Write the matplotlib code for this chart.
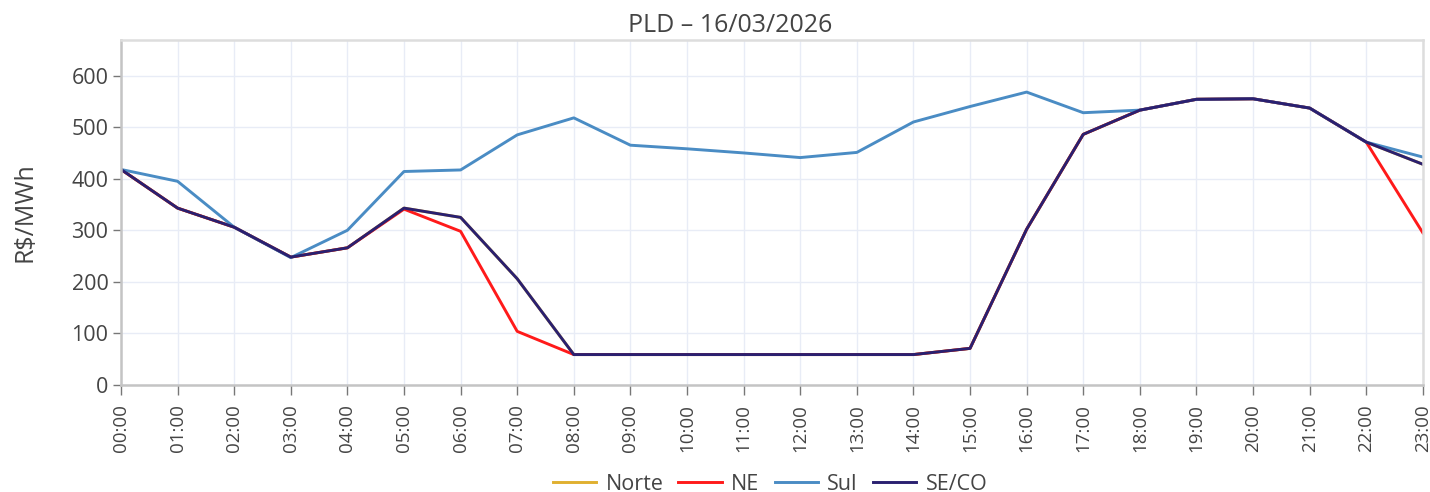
import matplotlib
matplotlib.use('Agg')
import matplotlib.pyplot as plt

plt.rcParams['font.family'] = ['Open Sans', 'DejaVu Sans']

hours = ['%02d:00' % h for h in range(24)]
series_names = ['Norte', 'NE', 'Sul', 'SE/CO']
series_colors = ['#E0B030', '#FF1A1A', '#4A8CC4', '#2A2070']

se_co = [418, 343, 306, 248, 266, 343, 325, 206, 59, 59, 59, 59, 59, 59, 59, 71,
         302, 486, 533, 554, 555, 537, 471, 428]
norte = list(se_co)
ne = [418, 343, 306, 248, 266, 341, 298, 104, 59, 59, 59, 59, 59, 59, 59, 71,
      302, 486, 533, 554, 555, 537, 471, 295]
sul = [418, 395, 306, 247, 300, 414, 417, 485, 518, 465, 458, 450, 441, 451, 510, 540,
       568, 528, 533, 554, 555, 537, 471, 442]

fig = plt.figure(figsize=(14.3, 4.92), dpi=100)
ax = fig.add_axes([0.0846, 0.2175, 0.9104, 0.7012])

x = list(range(len(hours)))
for name, vals, col in zip(series_names, [norte, ne, sul, se_co], series_colors):
    ax.plot(x, vals, color=col, linewidth=2.1, label=name)

ax.set_xlim(0, 23)
ax.set_ylim(0, 669)
ax.set_xticks(x)
ax.set_xticklabels(hours, rotation=90, fontsize=13.5, color='#444444')
ax.set_yticks([0, 100, 200, 300, 400, 500, 600])
ax.tick_params(axis='y', labelsize=15.5, colors='#444444', length=6, width=1, pad=3)
ax.tick_params(axis='x', colors='#444444', length=7, width=1, pad=7)
ax.tick_params(axis='both', color='#777777')
ax.grid(True, color='#E8ECF6', linewidth=1)
ax.set_axisbelow(True)
for side in ['left', 'bottom']:
    ax.spines[side].set_color('#C4C4C4')
    ax.spines[side].set_linewidth(1.8)
for side in ['top', 'right']:
    ax.spines[side].set_color('#DDDDDD')
    ax.spines[side].set_linewidth(1.8)

ax.set_ylabel('R$/MWh', fontsize=18, color='#444444')
ax.yaxis.set_label_coords(-0.064, 0.5)
fig.text(0.5105, 1 - 32 / 492, 'PLD – 16/03/2026', fontsize=18, color='#444444',
         ha='center', va='baseline')

fig.legend(loc='center', bbox_to_anchor=(0.5385, 0.016), ncol=4, frameon=False,
           fontsize=15.5, handlelength=2.0, columnspacing=0.7, handletextpad=0.45,
           labelcolor='#444444')

fig.savefig('out.png', dpi=100)
